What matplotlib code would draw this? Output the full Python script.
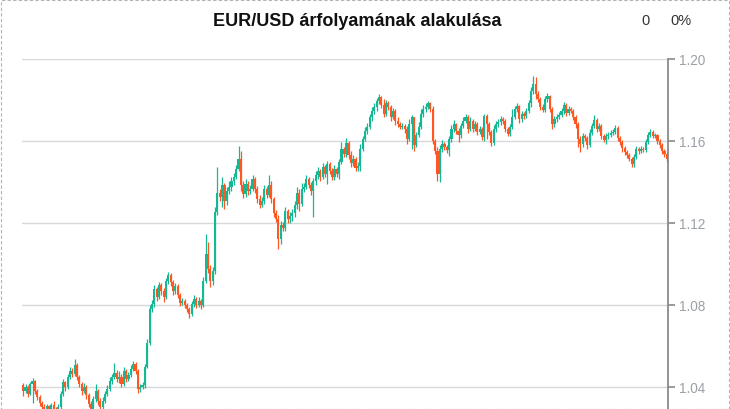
import numpy as np
import matplotlib
matplotlib.use("Agg")
import matplotlib.pyplot as plt
from matplotlib.patches import Rectangle

plt.rcParams["font.family"] = ["Liberation Sans", "DejaVu Sans"]

title = "EUR/USD árfolyamának alakulása"
first_open = 1.0410

closes = [
    1.0380, 1.0400, 1.0366, 1.0414, 1.0429, 1.0380, 1.0351, 1.0322, 1.0302, 1.0283,
    1.0307, 1.0273, 1.0312, 1.0292, 1.0263, 1.0302, 1.0366, 1.0424, 1.0400, 1.0449,
    1.0478, 1.0463, 1.0507, 1.0449, 1.0414, 1.0380, 1.0400, 1.0361, 1.0317, 1.0292,
    1.0341, 1.0380, 1.0331, 1.0302, 1.0331, 1.0366, 1.0390, 1.0429, 1.0449, 1.0468,
    1.0439, 1.0449, 1.0414, 1.0478, 1.0439, 1.0458, 1.0488, 1.0512, 1.0478, 1.0390,
    1.0400, 1.0410, 1.0497, 1.0614, 1.0780, 1.0805, 1.0878, 1.0839, 1.0897, 1.0868,
    1.0839, 1.0917, 1.0946, 1.0912, 1.0868, 1.0893, 1.0849, 1.0810, 1.0820, 1.0800,
    1.0780, 1.0756, 1.0805, 1.0829, 1.0800, 1.0820, 1.0800, 1.0917, 1.1049, 1.0976,
    1.0917, 1.0966, 1.1254, 1.1346, 1.1327, 1.1385, 1.1307, 1.1356, 1.1376, 1.1405,
    1.1424, 1.1463, 1.1512, 1.1385, 1.1342, 1.1390, 1.1356, 1.1366, 1.1415, 1.1366,
    1.1317, 1.1288, 1.1307, 1.1366, 1.1337, 1.1385, 1.1317, 1.1249, 1.1220, 1.1122,
    1.1190, 1.1175, 1.1259, 1.1220, 1.1234, 1.1249, 1.1288, 1.1346, 1.1293, 1.1366,
    1.1376, 1.1415, 1.1385, 1.1356, 1.1405, 1.1434, 1.1454, 1.1424, 1.1473, 1.1439,
    1.1488, 1.1454, 1.1424, 1.1463, 1.1439, 1.1497, 1.1561, 1.1537, 1.1590, 1.1532,
    1.1493, 1.1512, 1.1468, 1.1478, 1.1561, 1.1610, 1.1649, 1.1668, 1.1717, 1.1746,
    1.1766, 1.1795, 1.1815, 1.1776, 1.1732, 1.1785, 1.1766, 1.1717, 1.1746, 1.1698,
    1.1683, 1.1668, 1.1673, 1.1659, 1.1610, 1.1683, 1.1717, 1.1581, 1.1629, 1.1668,
    1.1732, 1.1756, 1.1766, 1.1785, 1.1756, 1.1600, 1.1551, 1.1439, 1.1561, 1.1585,
    1.1571, 1.1556, 1.1610, 1.1659, 1.1683, 1.1649, 1.1629, 1.1673, 1.1698, 1.1717,
    1.1659, 1.1698, 1.1659, 1.1683, 1.1644, 1.1659, 1.1620, 1.1722, 1.1683, 1.1644,
    1.1590, 1.1659, 1.1683, 1.1693, 1.1707, 1.1698, 1.1659, 1.1634, 1.1668, 1.1717,
    1.1756, 1.1771, 1.1707, 1.1732, 1.1722, 1.1746, 1.1785, 1.1844, 1.1878, 1.1829,
    1.1805, 1.1766, 1.1751, 1.1805, 1.1820, 1.1756, 1.1683, 1.1707, 1.1717, 1.1727,
    1.1746, 1.1776, 1.1737, 1.1756, 1.1746, 1.1717, 1.1683, 1.1610, 1.1585, 1.1625,
    1.1615, 1.1581, 1.1639, 1.1673, 1.1703, 1.1659, 1.1673, 1.1625, 1.1605, 1.1625,
    1.1629, 1.1639, 1.1644, 1.1664, 1.1615, 1.1595, 1.1566, 1.1546, 1.1532, 1.1512,
    1.1488, 1.1522, 1.1561, 1.1551, 1.1561, 1.1556, 1.1595, 1.1629, 1.1644, 1.1625,
    1.1629, 1.1600, 1.1581, 1.1551, 1.1537, 1.1512,
]

highs = [
    1.0419, 1.0414, 1.0410, 1.0424, 1.0444, 1.0434, 1.0390, 1.0361, 1.0331, 1.0317,
    1.0317, 1.0312, 1.0322, 1.0331, 1.0302, 1.0317, 1.0380, 1.0439, 1.0429, 1.0463,
    1.0497, 1.0492, 1.0537, 1.0517, 1.0458, 1.0424, 1.0419, 1.0410, 1.0370, 1.0331,
    1.0356, 1.0414, 1.0390, 1.0346, 1.0351, 1.0380, 1.0410, 1.0449, 1.0463, 1.0517,
    1.0483, 1.0478, 1.0463, 1.0497, 1.0488, 1.0473, 1.0507, 1.0527, 1.0522, 1.0488,
    1.0414, 1.0424, 1.0512, 1.0634, 1.0800, 1.0824, 1.0897, 1.0888, 1.0912, 1.0907,
    1.0883, 1.0932, 1.0961, 1.0956, 1.0922, 1.0907, 1.0902, 1.0858, 1.0834, 1.0829,
    1.0810, 1.0790, 1.0820, 1.0849, 1.0839, 1.0839, 1.0829, 1.0937, 1.1146, 1.1107,
    1.0995, 1.0985, 1.1278, 1.1473, 1.1366, 1.1424, 1.1395, 1.1376, 1.1405, 1.1424,
    1.1444, 1.1483, 1.1576, 1.1551, 1.1405, 1.1415, 1.1405, 1.1385, 1.1434, 1.1424,
    1.1381, 1.1337, 1.1327, 1.1385, 1.1381, 1.1434, 1.1405, 1.1327, 1.1263, 1.1239,
    1.1210, 1.1205, 1.1278, 1.1268, 1.1254, 1.1268, 1.1307, 1.1376, 1.1366, 1.1395,
    1.1395, 1.1434, 1.1424, 1.1400, 1.1420, 1.1454, 1.1473, 1.1463, 1.1493, 1.1483,
    1.1502, 1.1497, 1.1468, 1.1483, 1.1473, 1.1512, 1.1595, 1.1571, 1.1615, 1.1600,
    1.1551, 1.1532, 1.1522, 1.1497, 1.1585, 1.1625, 1.1668, 1.1688, 1.1732, 1.1766,
    1.1785, 1.1810, 1.1829, 1.1820, 1.1805, 1.1800, 1.1795, 1.1776, 1.1761, 1.1756,
    1.1717, 1.1693, 1.1688, 1.1683, 1.1673, 1.1707, 1.1727, 1.1717, 1.1644, 1.1693,
    1.1756, 1.1776, 1.1785, 1.1795, 1.1790, 1.1771, 1.1610, 1.1571, 1.1581, 1.1605,
    1.1595, 1.1581, 1.1625, 1.1678, 1.1703, 1.1688, 1.1664, 1.1688, 1.1717, 1.1732,
    1.1727, 1.1717, 1.1707, 1.1698, 1.1693, 1.1673, 1.1668, 1.1732, 1.1732, 1.1693,
    1.1654, 1.1678, 1.1698, 1.1707, 1.1722, 1.1717, 1.1707, 1.1668, 1.1683, 1.1756,
    1.1771, 1.1785, 1.1776, 1.1746, 1.1742, 1.1761, 1.1800, 1.1864, 1.1917, 1.1912,
    1.1844, 1.1815, 1.1781, 1.1820, 1.1834, 1.1825, 1.1766, 1.1722, 1.1732, 1.1742,
    1.1761, 1.1790, 1.1785, 1.1771, 1.1766, 1.1756, 1.1727, 1.1693, 1.1625, 1.1639,
    1.1634, 1.1625, 1.1659, 1.1688, 1.1727, 1.1712, 1.1688, 1.1683, 1.1634, 1.1639,
    1.1644, 1.1654, 1.1659, 1.1678, 1.1673, 1.1625, 1.1605, 1.1576, 1.1556, 1.1542,
    1.1522, 1.1537, 1.1576, 1.1571, 1.1576, 1.1571, 1.1610, 1.1644, 1.1659, 1.1654,
    1.1639, 1.1634, 1.1610, 1.1590, 1.1561, 1.1546,
]

lows = [
    1.0356, 1.0370, 1.0351, 1.0361, 1.0322, 1.0366, 1.0336, 1.0307, 1.0283, 1.0253,
    1.0273, 1.0243, 1.0263, 1.0273, 1.0243, 1.0253, 1.0292, 1.0356, 1.0380, 1.0390,
    1.0439, 1.0449, 1.0453, 1.0434, 1.0400, 1.0361, 1.0370, 1.0341, 1.0302, 1.0263,
    1.0278, 1.0326, 1.0312, 1.0287, 1.0292, 1.0322, 1.0356, 1.0380, 1.0414, 1.0439,
    1.0424, 1.0419, 1.0400, 1.0405, 1.0424, 1.0429, 1.0449, 1.0478, 1.0463, 1.0370,
    1.0375, 1.0390, 1.0395, 1.0492, 1.0605, 1.0766, 1.0790, 1.0820, 1.0829, 1.0849,
    1.0815, 1.0829, 1.0902, 1.0893, 1.0849, 1.0853, 1.0834, 1.0795, 1.0800, 1.0785,
    1.0766, 1.0736, 1.0746, 1.0790, 1.0785, 1.0790, 1.0780, 1.0790, 1.0907, 1.0956,
    1.0888, 1.0897, 1.0951, 1.1239, 1.1307, 1.1278, 1.1268, 1.1288, 1.1342, 1.1356,
    1.1385, 1.1415, 1.1454, 1.1356, 1.1322, 1.1327, 1.1337, 1.1342, 1.1356, 1.1346,
    1.1298, 1.1273, 1.1278, 1.1293, 1.1322, 1.1327, 1.1298, 1.1229, 1.1205, 1.1073,
    1.1097, 1.1161, 1.1161, 1.1200, 1.1200, 1.1210, 1.1229, 1.1268, 1.1259, 1.1283,
    1.1351, 1.1366, 1.1371, 1.1337, 1.1229, 1.1385, 1.1415, 1.1405, 1.1415, 1.1424,
    1.1390, 1.1439, 1.1410, 1.1410, 1.1424, 1.1415, 1.1488, 1.1522, 1.1522, 1.1512,
    1.1473, 1.1478, 1.1454, 1.1454, 1.1454, 1.1551, 1.1600, 1.1634, 1.1659, 1.1698,
    1.1732, 1.1746, 1.1781, 1.1761, 1.1717, 1.1722, 1.1751, 1.1698, 1.1707, 1.1678,
    1.1668, 1.1659, 1.1659, 1.1639, 1.1585, 1.1600, 1.1561, 1.1551, 1.1571, 1.1620,
    1.1659, 1.1717, 1.1742, 1.1756, 1.1742, 1.1585, 1.1537, 1.1405, 1.1400, 1.1546,
    1.1556, 1.1542, 1.1527, 1.1595, 1.1644, 1.1634, 1.1595, 1.1615, 1.1664, 1.1688,
    1.1639, 1.1649, 1.1644, 1.1649, 1.1629, 1.1634, 1.1605, 1.1600, 1.1610, 1.1629,
    1.1576, 1.1581, 1.1644, 1.1668, 1.1678, 1.1683, 1.1644, 1.1625, 1.1625, 1.1659,
    1.1707, 1.1742, 1.1688, 1.1693, 1.1707, 1.1712, 1.1737, 1.1766, 1.1829, 1.1805,
    1.1790, 1.1751, 1.1742, 1.1742, 1.1790, 1.1742, 1.1659, 1.1668, 1.1693, 1.1707,
    1.1717, 1.1732, 1.1722, 1.1727, 1.1737, 1.1703, 1.1664, 1.1571, 1.1546, 1.1571,
    1.1600, 1.1561, 1.1571, 1.1629, 1.1664, 1.1644, 1.1649, 1.1610, 1.1595, 1.1585,
    1.1610, 1.1620, 1.1629, 1.1634, 1.1600, 1.1581, 1.1546, 1.1532, 1.1517, 1.1502,
    1.1473, 1.1473, 1.1512, 1.1537, 1.1542, 1.1546, 1.1546, 1.1585, 1.1620, 1.1615,
    1.1615, 1.1585, 1.1566, 1.1537, 1.1522, 1.1497,
]

yticks = [1.04, 1.08, 1.12, 1.16, 1.20]

closes = np.array(closes)
opens = np.r_[first_open, closes[:-1]]
highs = np.array(highs)
lows = np.array(lows)
x = np.arange(len(closes))

up_color = "#14b894"
down_color = "#fe5722"
flat_color = "#8c8c8c"
colors = np.where(closes > opens, up_color, np.where(closes < opens, down_color, flat_color))

W, H = 730, 410
fig = plt.figure(figsize=(W / 100, H / 100), dpi=100)
ax = fig.add_axes([22 / W, 0, 646 / W, 350 / H])

ax.vlines(x, lows, highs, colors=colors, linewidth=0.9, zorder=3)
body = closes - opens
body = np.where(np.abs(body) < 0.0002, 0.0003, body)
ax.bar(x, body, bottom=opens, width=0.9, color=colors, linewidth=0, zorder=3)

ax.set_xlim(-0.5, len(closes) - 0.5)
ax.set_ylim(1.2 - 350 / 2050, 1.20)
ax.set_yticks(yticks)
ax.set_yticklabels([f"{v:.2f}" for v in yticks])
ax.yaxis.tick_right()
ax.set_xticks([])
ax.yaxis.grid(True, color="#d6d8db", linewidth=1.0, zorder=0)
ax.set_axisbelow(True)
for s in ["top", "left", "bottom"]:
    ax.spines[s].set_visible(False)
ax.spines["right"].set_color("#8a8a8a")
ax.spines["right"].set_linewidth(1.3)
ax.tick_params(axis="y", length=5, width=1.2, color="#8a8a8a",
               labelcolor="#9aa0a6", labelsize=9.8, pad=3)

fig.text(357.5 / W, 1 - 21 / H, title, ha="center", va="center",
         fontsize=13, fontweight="bold", color="#111111")
fig.text(645 / W, 1 - 21 / H, "0", ha="center", va="center", fontsize=10.5, color="#333333")
fig.text(681 / W, 1 - 21 / H, "0%", ha="center", va="center", fontsize=10.5, color="#333333")

fig.patches.append(Rectangle((0.5 / W, 0), 1 - 1.5 / W, 1 - 0.5 / H, transform=fig.transFigure,
                             fill=False, edgecolor="#b4b4b4", linewidth=0.8,
                             linestyle=(0, (3, 2)), clip_on=False))

fig.savefig("out.png", dpi=100)
